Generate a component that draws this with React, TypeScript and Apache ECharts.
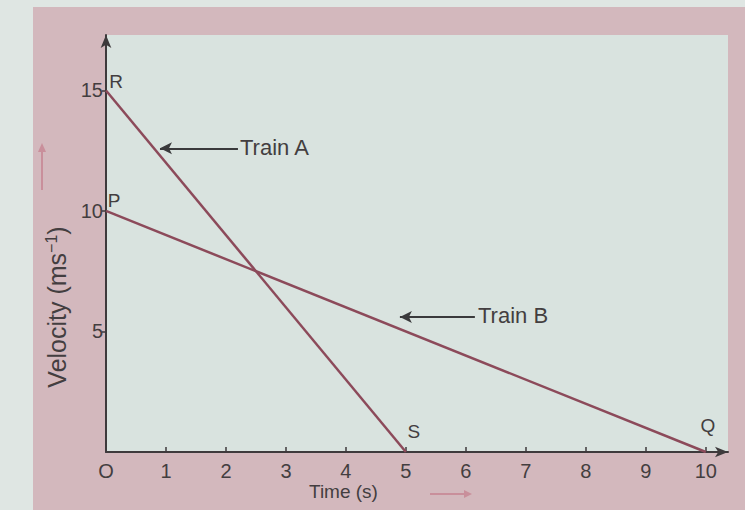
import React, { useEffect, useRef } from "react";
import * as echarts from "echarts";

const trainA: [number, number][] = [[0, 15], [5, 0]];
const trainB: [number, number][] = [[0, 10], [10, 0]];
const pointNamesA = ["R", "S"];
const pointNamesB = ["P", "Q"];
const xTicks = [0, 1, 2, 3, 4, 5, 6, 7, 8, 9, 10];
const yTicks = [5, 10, 15];

const LINE = "#8c4a5a";
const INK = "#433e40";

export default function App() {
  const ref = useRef<HTMLDivElement>(null);
  useEffect(() => {
    document.body.style.margin = "0";
    const chart = echarts.init(ref.current!, null, { renderer: "svg" });
    const labelOffsets: Record<string, [number, number]> = {
      R: [10, 6],
      S: [8, -6],
      P: [8, 4],
      Q: [2, -12],
    };
    const mk = (pts: [number, number][], names: string[]) =>
      pts.map((p, i) => ({
        value: p,
        label: {
          show: true,
          formatter: names[i],
          position: "top",
          offset: labelOffsets[names[i]],
          color: INK,
          fontSize: 19,
          fontFamily: "Liberation Sans",
        },
      }));
    chart.setOption({
      animation: false,
      backgroundColor: "#dfe6e3",
      grid: {
        left: 106,
        right: 17,
        top: 35,
        bottom: 58,
        show: true,
        backgroundColor: "#d9e3df",
        borderWidth: 0,
      },
      xAxis: {
        type: "value",
        min: 0,
        max: 10.37,
        splitLine: { show: false },
        axisLine: {
          show: true,
          symbol: ["none", "arrow"],
          symbolSize: [8, 13],
          lineStyle: { color: "#3e3a3c", width: 2 },
        },
        axisTick: {
          show: true,
          inside: true,
          length: 5,
          customValues: xTicks.slice(1),
          lineStyle: { color: "#3e3a3c", width: 1.5 },
        },
        axisLabel: {
          customValues: xTicks,
          formatter: (v: number) => (v === 0 ? "O" : String(v)),
          color: INK,
          fontSize: 20,
          margin: 9,
          fontFamily: "Liberation Sans",
        },
      },
      yAxis: {
        type: "value",
        min: 0,
        max: 17.3,
        splitLine: { show: false },
        axisLine: {
          show: true,
          symbol: ["none", "arrow"],
          symbolSize: [8, 13],
          lineStyle: { color: "#3e3a3c", width: 2 },
        },
        axisTick: {
          show: true,
          length: 4,
          customValues: yTicks,
          lineStyle: { color: "#3e3a3c", width: 1.5 },
        },
        axisLabel: {
          customValues: yTicks,
          color: INK,
          fontSize: 20,
          margin: 3,
          fontFamily: "Liberation Sans",
        },
      },
      series: [
        {
          type: "line",
          data: mk(trainA, pointNamesA),
          symbol: "circle",
          symbolSize: 0.1,
          lineStyle: { color: LINE, width: 2.5 },
          itemStyle: { color: LINE },
          markLine: {
            silent: true,
            symbol: ["none", "arrow"],
            symbolSize: [9, 12],
            label: { show: false },
            lineStyle: { color: "#3a3a3c", width: 2, type: "solid" },
            data: [[{ coord: [2.2, 12.6] }, { coord: [0.9, 12.6] }]],
          },
        },
        {
          type: "line",
          data: mk(trainB, pointNamesB),
          symbol: "circle",
          symbolSize: 0.1,
          lineStyle: { color: LINE, width: 2.5 },
          itemStyle: { color: LINE },
          markLine: {
            silent: true,
            symbol: ["none", "arrow"],
            symbolSize: [9, 12],
            label: { show: false },
            lineStyle: { color: "#3a3a3c", width: 2, type: "solid" },
            data: [[{ coord: [6.15, 5.6] }, { coord: [4.9, 5.6] }]],
          },
        },
      ],
      graphic: [
        { type: "rect", z: -10, shape: { x: 33, y: 7, width: 712, height: 503 }, style: { fill: "#d3b8bd" } },
        { type: "rect", z: -9, shape: { x: 106, y: 35, width: 622, height: 417 }, style: { fill: "#d9e3df" } },
        {
          type: "text",
          left: 240,
          top: 136,
          style: { text: "Train A", fill: INK, font: "22px 'Liberation Sans'" },
        },
        {
          type: "text",
          left: 478,
          top: 304,
          style: { text: "Train B", fill: INK, font: "22px 'Liberation Sans'" },
        },
        {
          type: "text",
          left: 309,
          top: 482,
          style: { text: "Time (s)", fill: INK, font: "19px 'Liberation Sans'" },
        },
        {
          type: "line",
          shape: { x1: 430, y1: 494, x2: 466, y2: 494 },
          style: { stroke: "#c98f9b", lineWidth: 2 },
        },
        {
          type: "polygon",
          shape: { points: [[472, 494], [464, 490], [464, 498]] },
          style: { fill: "#c98f9b" },
        },
        {
          type: "line",
          shape: { x1: 42, y1: 190, x2: 42, y2: 150 },
          style: { stroke: "#c98f9b", lineWidth: 2 },
        },
        {
          type: "polygon",
          shape: { points: [[42, 143], [38, 152], [46, 152]] },
          style: { fill: "#c98f9b" },
        },
        {
          type: "text",
          x: 57,
          y: 307,
          rotation: Math.PI / 2,
          style: {
            text: "{n|Velocity (ms}{s|−1}{n|)}",
            align: "center",
            verticalAlign: "middle",
            rich: {
              n: { fontSize: 25, fontFamily: "Liberation Sans", fill: INK, color: INK },
              s: { fontSize: 16, fontFamily: "Liberation Sans", fill: INK, color: INK, verticalAlign: "top", padding: [0, 0, 11, 0] },
            },
          },
        },
      ],
    });
    return () => chart.dispose();
  }, []);
  return <div ref={ref} style={{ width: 745, height: 510 }} />;
}
